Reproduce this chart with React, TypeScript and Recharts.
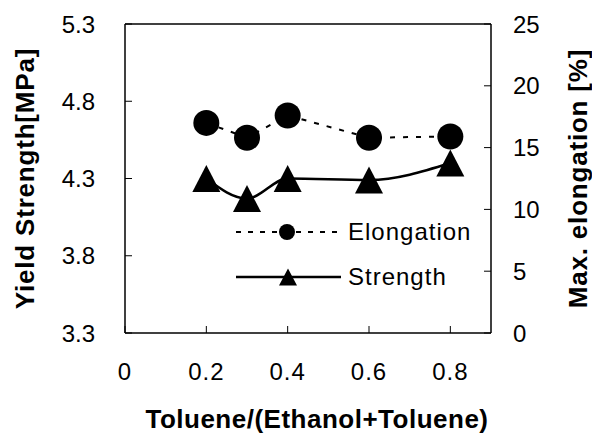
import { ComposedChart, Line, XAxis, YAxis, Legend, ReferenceLine } from "recharts";

// values
const ratios = [0.2, 0.3, 0.4, 0.6, 0.8];
const elongation = [17.0, 15.8, 17.6, 15.8, 15.9];
const strength = [4.3, 4.17, 4.3, 4.29, 4.4];
const xTicks = [0, 0.2, 0.4, 0.6, 0.8];
const strengthTicks = [3.3, 3.8, 4.3, 4.8, 5.3];
const elongationTicks = [0, 5, 10, 15, 20, 25];

const data = ratios.map((r, i) => ({ ratio: r, elongation: elongation[i], strength: strength[i] }));

const FONT = "'Liberation Sans', Arial, sans-serif";
const TICK_LEN = 7;

const LeftTick = ({ x, y, payload }: any) => (
  <g>
    <line x1={x} y1={y} x2={x + TICK_LEN} y2={y} stroke="#000" strokeWidth={1} />
    <text x={x - 30} y={y} dy="0.36em" textAnchor="end" fontSize={24} fontFamily={FONT} fill="#000">
      {payload.value}
    </text>
  </g>
);

const RightTick = ({ x, y, payload }: any) => (
  <g>
    <line x1={x} y1={y} x2={x - TICK_LEN} y2={y} stroke="#000" strokeWidth={1} />
    <text x={x + 22} y={y} dy="0.36em" textAnchor="start" fontSize={24} fontFamily={FONT} fill="#000">
      {payload.value}
    </text>
  </g>
);

const BottomTick = ({ x, y, payload }: any) => (
  <g>
    <line x1={x} y1={y} x2={x} y2={y - TICK_LEN} stroke="#000" strokeWidth={1} />
    <text x={x} y={y + 38} dy="0.36em" textAnchor="middle" fontSize={24} fontFamily={FONT} fill="#000" letterSpacing={1}>
      {payload.value}
    </text>
  </g>
);

const Circle = (props: any) => {
  const { cx, cy, index } = props;
  if (cx == null || cy == null) return <g key={index} />;
  return <circle key={index} cx={cx} cy={cy} r={13} fill="#000" />;
};

const Triangle = (props: any) => {
  const { cx, cy, index } = props;
  if (cx == null || cy == null) return <g key={index} />;
  return (
    <polygon
      key={index}
      points={`${cx},${cy - 13.5} ${cx - 14},${cy + 13.5} ${cx + 14},${cy + 13.5}`}
      fill="#000"
    />
  );
};

const titleStyle = { fontSize: 26, fontWeight: 700, fontFamily: FONT, fill: "#000", letterSpacing: 0.8 };

const LeftTitle = ({ viewBox }: any) => {
  const cx = viewBox.x + 25;
  const cy = viewBox.y + viewBox.height / 2;
  return (
    <text x={cx} y={cy} dy="0.36em" textAnchor="middle" transform={`rotate(-90 ${cx} ${cy})`} style={titleStyle}>
      Yield Strength[MPa]
    </text>
  );
};

const RightTitle = ({ viewBox }: any) => {
  const cx = viewBox.x + viewBox.width - 14;
  const cy = viewBox.y + viewBox.height / 2;
  return (
    <text x={cx} y={cy} dy="0.36em" textAnchor="middle" transform={`rotate(-90 ${cx} ${cy})`} style={titleStyle}>
      Max. elongation [%]
    </text>
  );
};

const BottomTitle = ({ viewBox }: any) => {
  const cx = viewBox.x + viewBox.width / 2 + 9;
  const cy = viewBox.y + 86;
  return (
    <text x={cx} y={cy} dy="0.36em" textAnchor="middle" style={{ ...titleStyle, letterSpacing: 0.5 }}>
      Toluene/(Ethanol+Toluene)
    </text>
  );
};

const renderLegend = ({ payload }: any) => (
  <div style={{ fontFamily: FONT, fontSize: 24, color: "#000" }}>
    {(payload || []).map((entry: any) => {
      const dashed = entry.dataKey === "elongation";
      return (
        <div key={entry.value} style={{ display: "flex", alignItems: "center", height: 24, marginBottom: 21.5 }}>
          <svg width={105} height={24}>
            <line
              x1={0}
              y1={12}
              x2={105}
              y2={12}
              stroke="#000"
              strokeWidth={dashed ? 2 : 2.5}
              strokeDasharray={dashed ? "5 7" : undefined}
            />
            {dashed ? (
              <circle cx={51} cy={12} r={8} fill="#000" />
            ) : (
              <polygon points="52,3.5 43,20.5 61,20.5" fill="#000" />
            )}
          </svg>
          <span style={{ marginLeft: 7, lineHeight: "24px", letterSpacing: 1 }}>{entry.value}</span>
        </div>
      );
    })}
  </div>
);

export default function App() {
  return (
    <div style={{ position: "absolute", left: 0, top: 0, background: "#fff" }}>
      <ComposedChart width={592} height={437} data={data} margin={{ top: 24, right: 0, bottom: 0, left: 0 }}>
        <XAxis
          dataKey="ratio"
          type="number"
          domain={[0, 0.9]}
          ticks={xTicks}
          height={104}
          tickSize={0}
          tickMargin={0}
          tick={<BottomTick />}
          axisLine={{ stroke: "#000", strokeWidth: 1.5 }}
          label={<BottomTitle />}
        />
        <YAxis
          yAxisId="left"
          orientation="left"
          domain={[3.3, 5.3]}
          ticks={strengthTicks}
          width={125}
          tickSize={0}
          tickMargin={0}
          tick={<LeftTick />}
          axisLine={{ stroke: "#000", strokeWidth: 1.5 }}
          label={<LeftTitle />}
        />
        <YAxis
          yAxisId="right"
          orientation="right"
          domain={[0, 25]}
          ticks={elongationTicks}
          width={101}
          tickSize={0}
          tickMargin={0}
          tick={<RightTick />}
          axisLine={{ stroke: "#000", strokeWidth: 1.5 }}
          label={<RightTitle />}
        />
        <ReferenceLine yAxisId="left" y={5.3} stroke="#000" strokeWidth={1.5} />
        <Line
          yAxisId="right"
          dataKey="elongation"
          name="Elongation"
          type="linear"
          stroke="#000"
          strokeWidth={2}
          strokeDasharray="5 8"
          dot={Circle}
          activeDot={false}
          isAnimationActive={false}
        />
        <Line
          yAxisId="left"
          dataKey="strength"
          name="Strength"
          type="monotone"
          stroke="#000"
          strokeWidth={2.5}
          dot={Triangle}
          activeDot={false}
          isAnimationActive={false}
        />
        <Legend
          layout="vertical"
          align="center"
          verticalAlign="middle"
          content={renderLegend}
          wrapperStyle={{ left: 236, top: 219.5, width: 240 }}
        />
      </ComposedChart>
    </div>
  );
}
